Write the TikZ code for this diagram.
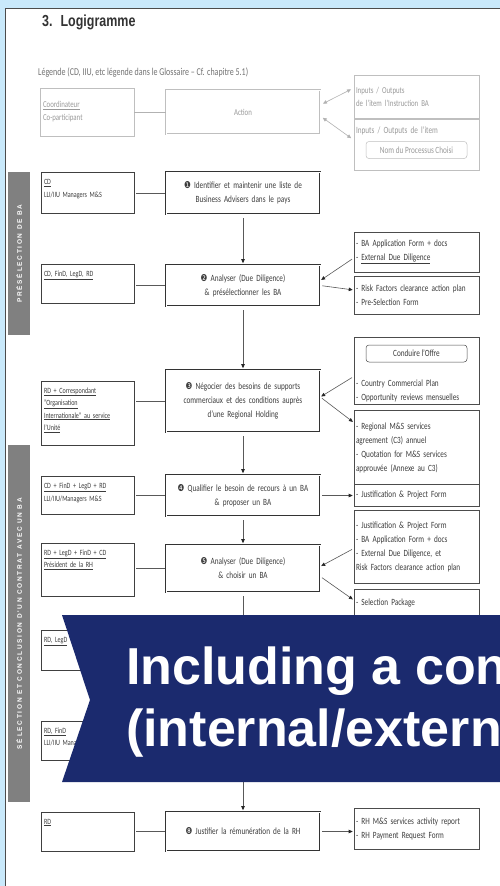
\documentclass[tikz,border=0pt]{standalone}
\usepackage{fontspec}
\setmainfont{Carlito}[FakeStretch=0.76]
\newfontfamily\titlefont{Liberation Sans}[FakeStretch=0.78]
\newfontfamily\bannerfont{Liberation Sans}
\newfontfamily\bandfont{Liberation Sans}[LetterSpace=26]
\newfontfamily\symfont{DejaVu Sans}[FakeStretch=0.8]
\usepackage{tikz}
\usetikzlibrary{arrows.meta,positioning}

\definecolor{skyback}{RGB}{201,233,251}
\definecolor{bannerblue}{RGB}{27,42,110}
\definecolor{bandgray}{RGB}{128,128,128}
\definecolor{inkgray}{RGB}{60,60,60}

\newcommand{\nr}[1]{{\symfont #1}}

\begin{document}
\begin{tikzpicture}[
	x = 1pt, y = -1pt,
	node distance = 20pt,
	on grid,
	> = {Triangle[length=4pt,width=3.5pt,color=black!85]},
	every node/.style = {text=inkgray},
	action/.style = {draw=black!80, double, double distance=.8pt, line width=.6pt,
		fill=white, text width=148pt, inner xsep=3pt, align=center,
		minimum height=#1, font=\fontsize{9.5}{14}\selectfont},
	role/.style = {draw=black!75, line width=.6pt, fill=white, text width=87pt,
		inner xsep=3pt, inner ysep=4pt, align=left, text height=8pt, text depth=#1,
		font=\fontsize{8}{12.5}\selectfont},
	doc/.style = {draw=black!70, line width=.6pt, fill=white, text width=121pt,
		inner xsep=2pt, align=left, minimum height=#1, font=\fontsize{9.5}{14}\selectfont},
	proc/.style = {draw=black!70, line width=.5pt, rounded corners=3pt, fill=white,
		minimum width=101pt, minimum height=17pt, font=\fontsize{9.5}{12}\selectfont},
	plain/.style = {text width=121pt, inner sep=0pt, align=left, font=\fontsize{9.5}{14}\selectfont},
	legbox/.style = {draw=black!25, line width=.6pt, fill=white, minimum height=#1,
		text=black!40, font=\fontsize{9}{13}\selectfont},
	link/.style = {draw=black!65, line width=.6pt, shorten <=2pt, shorten >=1pt},
	legarrow/.style = {draw=black!30, line width=.6pt, shorten <=3pt, shorten >=3pt,
		{Triangle[length=4pt,width=3.5pt]}-{Triangle[length=4pt,width=3.5pt]}},
	band/.style = {fill=bandgray, text=white, rotate=90, minimum height=22pt, inner sep=0pt,
		font=\bandfont\bfseries\fontsize{6.5}{7}\selectfont}
	]
	% page
	\path[use as bounding box] (0,0) rectangle (500,886);
	\clip (0,0) rectangle (500,886);
	\fill[skyback] (0,0) rectangle (500,886);
	\fill[white] (5,8) rectangle (510,895);
	\draw[black!70, line width=.8pt] (5,895) -- (5,8) -- (510,8);

	\node[anchor=base west, inner sep=0pt, text=black!80,
		font=\titlefont\bfseries\fontsize{16}{18}\selectfont] (title) at (42,27) {3.\hspace{8pt}Logigramme};
	\node[anchor=base west, inner sep=0pt, text=black!55,
		font=\fontsize{10.5}{12}\selectfont] (legtitle) at (38,75) {Légende (CD, IIU, etc légende dans le Glossaire – Cf. chapitre 5.1)};

	% actions
	\node[action=42pt] (act1) at (243,193) {\nr{❶} Identifier et maintenir une liste de\\Business Advisers dans le pays};
	\node[action=41pt] (act2) [below=92.5pt of act1] {\nr{❷} Analyser (Due Diligence)\\\& présélectionner les BA};
	\node[action=62pt] (act3) [below=115.5pt of act2] {\nr{❸} Négocier des besoins de supports\\commerciaux et des conditions auprès\\d'une Regional Holding};
	\node[action=41pt] (act4) [below=94.5pt of act3] {\nr{❹} Qualifier le besoin de recours à un BA\\\& proposer un BA};
	\node[action=47pt] (act5) [below=73pt of act4] {\nr{❺} Analyser (Due Diligence)\\\& choisir un BA};
	\node[action=39pt] (act8) [below=263pt of act5] {\nr{❽} Justifier la rémunération de la RH};

	% roles
	\node[role=25pt] (role1) [left=155.5pt of act1] {\underline{CD}\\LLI/IIU Managers M\&S};
	\node[role=23pt] (role2) [above left=2pt and 155.5pt of act2] {\underline{CD, FinD, LegD, RD}};
	\node[role=48pt] (role3) [below left=12pt and 155.5pt of act3] {\underline{RD + Correspondant}\\\underline{"Organisation}\\\underline{Internationale" au service}\\\underline{l'Unité}};
	\node[role=22pt] (role4) [left=155.5pt of act4] {\underline{CD + FinD + LegD + RD}\\LLI/IIU/Managers M\&S};
	\node[role=37pt] (role5) [below left=1pt and 155.5pt of act5] {\underline{RD + LegD + FinD + CD}\\\underline{Président de la RH}};
	\node[role=24pt] (role6) [below=80.5pt of role5] {\underline{RD, LegD}};
	\node[role=23pt] (role7) [below=90.5pt of role6] {\underline{RD, FinD}\\LLI/IIU Managers M\&S};
	\node[role=23pt] (role8) [left=155.5pt of act8] {\underline{RD}};

	% inputs / outputs
	\node[doc=40pt] (doc1a) [above right=33.5pt and 173.5pt of act2] {- BA Application Form + docs\\- \underline{External Due Diligence}};
	\node[doc=38pt] (doc1b) [below right=9.5pt and 173.5pt of act2] {- Risk Factors clearance action plan\\- Pre-Selection Form};
	\node[doc=67pt] (offre) [above right=30.5pt and 173.5pt of act3] {};
	\node[proc] (cdoffre) [above=17pt of offre] {Conduire l'Offre};
	\node[plain] (offretxt) [below=20.5pt of offre] {- Country Commercial Plan\\- Opportunity reviews mensuelles};
	\node[doc=75pt] (regio) [below right=46.5pt and 173.5pt of act3] {- Regional M\&S services\\agreement (C3) annuel\\- Quotation for M\&S services\\approuvée (Annexe au C3)};
	\node[doc=22pt] (justif) [right=173.5pt of act4] {- Justification \& Project Form};
	\node[doc=73pt] (docs5) [above right=22pt and 173.5pt of act5] {- Justification \& Project Form\\- BA Application Form + docs\\- External Due Diligence, et\\Risk Factors clearance action plan};
	\node[doc=72pt, text height=12pt, text depth=52pt, inner ysep=4pt] (sel) [below right=56.5pt and 173.5pt of act5] {- Selection Package};
	\node[doc=41pt] (doc8) [above right=3pt and 173.5pt of act8] {- RH M\&S services activity report\\- RH Payment Request Form};

	% legend
	\node[legbox=44pt, double, double distance=.8pt, minimum width=154pt] (lact) [above=81pt of act1] {Action};
	\node[legbox=48pt, text width=88pt, inner xsep=3pt, align=left] (lrole) [left=156pt of lact] {\underline{Coordinateur}\\Co-participant};
	\node[legbox=43pt, text width=121pt, inner xsep=2pt, align=left] (io1) [above right=15.5pt and 173.5pt of lact] {Inputs / Outputs\\de l'item l'Instruction BA};
	\node[legbox=51pt, minimum width=125pt] (io2) [below=48pt of io1] {};
	\node[plain, text=black!40] (io2txt) [above=13.5pt of io2] {Inputs / Outputs de l'item};
	\node[proc, draw=black!25, text=black!40] (nomproc) [below=5.5pt of io2] {Nom du Processus Choisi};

	% section bands
	\node[band, minimum width=163pt] (band1) at (19,253.5) {PRÉSÉLECTION DE BA};
	\node[band, minimum width=357pt] (band2) at (19,623.5) {SÉLECTION ET CONCLUSION D'UN CONTRAT AVEC UN BA};

	% connectors
	\draw[draw=black!30, line width=.6pt] (lact.west -| lrole.east) -- (lact.west);
	\draw[legarrow] ([yshift=7pt]lact.east) -- ([yshift=8.5pt]io1.west);
	\draw[legarrow] ([yshift=-4pt]lact.east) -- ([yshift=4.5pt]io2.west);

	\draw[link] (act1.west -| role1.east) -- (act1.west);
	\draw[link] (act2.west -| role2.east) -- (act2.west);
	\draw[link] (act3.west -| role3.east) -- (act3.west);
	\draw[link] (act4.west -| role4.east) -- (act4.west);
	\draw[link] (act5.west -| role5.east) -- (act5.west);
	\draw[link] (act8.west -| role8.east) -- (act8.west);

	\path[link, ->, shorten <=4pt, shorten >=1.5pt]
		(act1) edge (act2)
		(act2) edge (act3)
		(act3) edge (act4)
		(act4) edge (act5)
		(act5) edge (act8);

	\draw[link, ->] ([yshift=-6pt]doc1a.west) -- ([yshift=5pt]act2.east);
	\draw[link, ->] (act2.east) -- ([yshift=5pt]doc1b.west);
	\draw[link, ->] ([yshift=-6pt]offre.west) -- ([yshift=4pt]act3.east);
	\draw[link, ->] ([yshift=4pt]act3.east) -- ([yshift=25pt]regio.west);
	\draw[link, ->] (act4.east) -- (act4.east -| justif.west);
	\draw[link, ->] ([yshift=-2pt]docs5.west) -- ([yshift=2pt]act5.east);
	\draw[link, ->] ([yshift=-8pt]act5.east) -- ([yshift=25pt]sel.west);
	\draw[link, ->] (act8.east) -- (act8.east -| doc8.west);

	% banner
	\fill[bannerblue] (62,615) -- (510,615) -- (510,782) -- (62,782) -- (90,700) -- cycle;
	\node[anchor=base west, inner sep=0pt, text=white,
		font=\bannerfont\bfseries\fontsize{52}{60}\selectfont] (bline1) at (126,684) {Including a con};
	\node[anchor=base west, inner sep=0pt, text=white,
		font=\bannerfont\bfseries\fontsize{52}{60}\selectfont] (bline2) at (126,746) {(internal/extern};
\end{tikzpicture}
\end{document}
